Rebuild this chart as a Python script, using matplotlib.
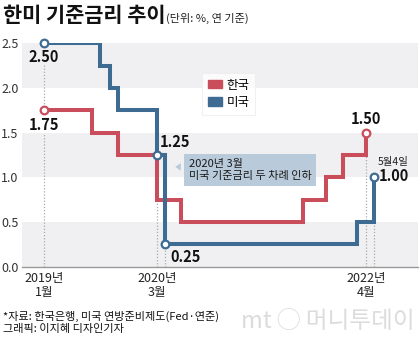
import matplotlib
matplotlib.use("Agg")
import matplotlib.pyplot as plt
from matplotlib.patches import Patch

plt.rcParams['font.family'] = ['Noto Sans CJK KR', 'DejaVu Sans']

# x = months since Jan 2019 (as spaced in the graphic)
us_x = [0, 6.94, 8.18, 9.1, 14.0, 15.0, 38.8, 40.9]
us_y = [2.50, 2.25, 2.00, 1.75, 1.25, 0.25, 0.50, 1.00]
kr_x = [0, 5.95, 9.1, 14.0, 17.0, 32.0, 34.9, 37.0, 39.9]
kr_y = [1.75, 1.50, 1.25, 0.75, 0.50, 0.75, 1.00, 1.25, 1.50]
tick_pos = [0, 14.0, 39.9]
tick_labels = ['2019년\n1월', '2020년\n3월', '2022년\n4월']
ytick_vals = [0.0, 0.5, 1.0, 1.5, 2.0, 2.5]

RED = '#c94d5b'
BLUE = '#3e6b91'
GRAY_BAND = '#f0f0f2'

fig = plt.figure(figsize=(4.2, 3.53), dpi=100)
ax = fig.add_axes([22/420, 1-266.7/353, 396/420, 223.4/353])
ax.set_xlim(-2.73, 46.3)
ax.set_ylim(0, 2.5)

for lo in [0.0, 1.0, 2.0]:
    ax.axhspan(lo, lo+0.5, color=GRAY_BAND, zorder=0, lw=0)

# dotted guide lines
dot = dict(color='#aaaaaa', ls=(0, (1, 1.5)), lw=0.9, zorder=1)
ax.plot([kr_x[0], kr_x[0]], [0, 1.5], **dot)
ax.plot([us_x[0], us_x[0]], [1.75, 2.27], **dot)
ax.plot([us_x[4], us_x[4]], [0, us_y[4]], **dot)
ax.plot([us_x[5], us_x[5]], [0, us_y[5]], **dot)
ax.plot([kr_x[-1], kr_x[-1]], [0, kr_y[-1]], **dot)
ax.plot([us_x[-1], us_x[-1]], [0, us_y[-1]], **dot)

ax.plot(kr_x, kr_y, drawstyle='steps-post', color=RED, lw=2.9, zorder=3,
        solid_joinstyle='miter')
ax.plot(us_x, us_y, drawstyle='steps-post', color=BLUE, lw=2.9, zorder=4,
        solid_joinstyle='miter')

mk = dict(marker='o', ms=5.5, mfc='white', mew=1.6, ls='none', zorder=6, clip_on=False)
for i in [0, 4, 5, 7]:
    ax.plot(us_x[i], us_y[i], mec=BLUE, **mk)
for i in [0, 8]:
    ax.plot(kr_x[i], kr_y[i], mec=RED, **mk)

lbl = dict(fontsize=10.5, fontweight='bold', color='#111111', zorder=7)
ax.text(us_x[0], 2.35, f'{us_y[0]:.2f}', ha='center', va='center', **lbl)
ax.text(kr_x[0], 1.59, f'{kr_y[0]:.2f}', ha='center', va='center', **lbl)
ax.text(us_x[4] + 0.35, 1.39, f'{us_y[4]:.2f}', ha='left', va='center', **lbl)
ax.text(us_x[5] + 0.6, 0.11, f'{us_y[5]:.2f}', ha='left', va='center', **lbl)
ax.text(kr_x[-1], 1.65, f'{kr_y[-1]:.2f}', ha='center', va='center', **lbl)
ax.text(us_x[-1] + 0.5, 1.01, f'{us_y[-1]:.2f}', ha='left', va='center', **lbl)
ax.text(us_x[-1] + 0.4, 1.17, '5월4일', ha='left', va='center', fontsize=7.5,
        color='#222222', zorder=7)

ax.annotate('2020년 3월\n미국 기준금리 두 차례 인하', xy=(15.9, 1.12), xytext=(17.9, 1.085),
            ha='left', va='center', fontsize=8, color='#1a1a1a', linespacing=1.25,
            bbox=dict(boxstyle='square,pad=0.45', fc='#b9cbda', ec='none'),
            arrowprops=dict(arrowstyle='wedge,tail_width=0.7,shrink_factor=0.5',
                            fc='#b9cbda', ec='none'), zorder=8)

handles = [Patch(color=RED, label='한국'), Patch(color=BLUE, label='미국')]
leg = ax.legend(handles=handles, loc='upper left', bbox_to_anchor=(0.455, 0.867),
                borderaxespad=0, fontsize=9, frameon=True, fancybox=False,
                handlelength=1.1, handleheight=0.65, handletextpad=0.4,
                labelspacing=0.35, borderpad=0.45)
leg.get_frame().set_edgecolor('#eeeeee')
leg.get_frame().set_linewidth(0.8)

ax.set_yticks(ytick_vals)
ax.set_yticklabels([f'{v:.1f}' for v in ytick_vals], fontsize=9, color='#333333')
ax.set_xticks(tick_pos)
ax.set_xticklabels(tick_labels, fontsize=9, color='#222222', linespacing=1.05)
ax.tick_params(axis='both', length=0)
ax.tick_params(axis='y', pad=2.5)
ax.tick_params(axis='x', pad=4)
for s in ['top', 'right', 'left']:
    ax.spines[s].set_visible(False)
ax.spines['bottom'].set_color('#999999')
ax.spines['bottom'].set_linewidth(1.0)

fig.text(3/420, 1-15/353, '한미 기준금리 추이', fontsize=15, fontweight='bold',
         ha='left', va='center', color='#111111')
fig.text(166/420, 1-18/353, '(단위: %, 연 기준)', fontsize=8, ha='left', va='center',
         color='#222222')
fig.text(3/420, 1-316/353, '*자료: 한국은행, 미국 연방준비제도(Fed·연준)', fontsize=8,
         ha='left', va='center', color='#111111')
fig.text(3/420, 1-329/353, '그래픽: 이지혜 디자인기자', fontsize=8,
         ha='left', va='center', color='#111111')
fig.text(415/420, 1-321/353, 'mt ◯ 머니투데이', fontsize=17, ha='right', va='center',
         color='#dcdcdc', style='italic', zorder=0)

fig.savefig('out.png', dpi=100)
